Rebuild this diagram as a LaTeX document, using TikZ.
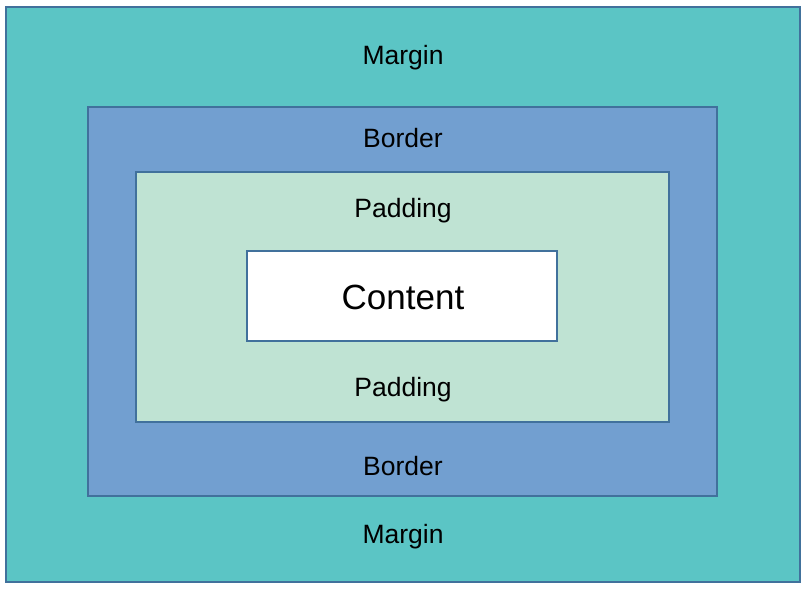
\documentclass[tikz,border=0pt]{standalone}
\usepackage{fontspec}
\setmainfont{Liberation Sans}
\definecolor{marginc}{HTML}{5BC5C5}
\definecolor{borderc}{HTML}{729FD0}
\definecolor{paddingc}{HTML}{BFE3D3}
\definecolor{strokec}{HTML}{41719C}
\begin{document}
\begin{tikzpicture}[x=1pt,y=-1pt,
  boxstyle/.style={draw=strokec,line width=1.2pt},
  lbl/.style={anchor=base,inner sep=0pt,font=\fontsize{26.5}{30}\selectfont},
  biglbl/.style={anchor=base,inner sep=0pt,font=\fontsize{35}{40}\selectfont}]
\useasboundingbox (0,0) rectangle (805,590);
\fill[white] (0,0) rectangle (805,590);
\draw[boxstyle,fill=marginc] (6,7) rectangle (800,582);
\draw[boxstyle,fill=borderc] (88,107) rectangle (717,496);
\draw[boxstyle,fill=paddingc] (136,172) rectangle (669,422);
\draw[boxstyle,fill=white] (247,251) rectangle (557,341);
\node[lbl] (m1) at (403,64.5) {Margin};
\node[lbl] (b1) at (403,147) {Border};
\node[lbl] (p1) at (403,217.5) {Padding};
\node[biglbl] (c) at (403,309) {Content};
\node[lbl] (p2) at (403,396.5) {Padding};
\node[lbl] (b2) at (403,475) {Border};
\node[lbl] (m2) at (403,543) {Margin};
\end{tikzpicture}
\end{document}
